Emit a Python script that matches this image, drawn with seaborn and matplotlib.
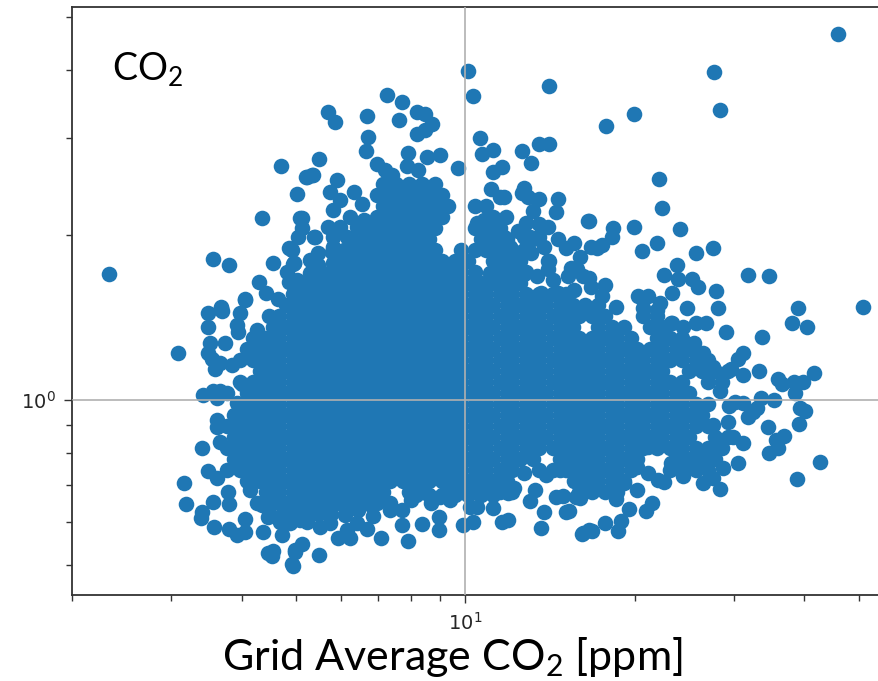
import matplotlib
matplotlib.use("Agg")
import matplotlib.pyplot as plt
import numpy as np
import pandas as pd
import seaborn as sns
from matplotlib.ticker import NullFormatter

# Points that can be read one by one around the edge of the cloud
edge_co2 = [
    45.9, 27.7, 28.3, 19.9, 17.8, 22.1, 22.4, 16.6, 18.3, 18.2, 19.9, 24.1, 21.9, 20.6, 17.5, 17.1,
    25.7, 27.6, 23.8, 22.5, 23.9, 25.3, 25.9, 31.8, 34.6, 27.9, 23.3, 20.3, 21.1, 50.9,
    39.0, 38.0, 40.4, 29.0, 33.6, 31.2, 30.5, 33.2, 41.6, 35.9, 36.6, 38.3, 39.8, 38.6, 33.5, 35.3,
    30.2, 29.4, 31.2, 33.0, 31.8, 32.5, 39.4, 40.2, 39.1, 34.5, 36.8, 35.6, 35.9, 34.6, 42.7, 38.8,
    31.2, 30.5, 28.7, 28.4, 27.5, 26.4, 24.4, 22.5, 22.0, 21.1, 20.2, 18.5, 19.5, 21.5, 20.9, 18.9,
    18.7, 17.7, 16.8, 16.2, 5.5, 5.13, 4.98, 4.94, 5.94, 6.24, 7.09, 7.92, 6.69, 7.73, 8.38, 8.99,
    8.99, 9.92, 10.3, 6.86, 11.2, 10.5, 11.6, 11.9, 13.6, 13.8, 13.0, 15.1, 15.3, 14.5, 14.9, 15.7,
    16.1, 16.6, 13.3, 12.7, 11.9, 5.52, 5.23, 5.75, 6.17, 6.42, 7.35, 7.73, 8.67, 9.4, 10.2,
    3.08, 3.49, 3.68, 3.49, 3.98, 3.93, 3.94, 3.52, 3.74, 3.49, 3.55, 3.59, 3.84, 3.67, 3.42, 3.56,
    3.67, 3.77, 3.62, 3.93, 4.01, 3.62, 3.62, 3.67, 3.40, 3.49, 3.62, 3.16, 3.19, 3.56, 3.80, 3.79,
    3.40, 3.39, 3.57, 3.80, 3.93, 4.05, 4.06, 4.37, 4.73, 4.88, 4.45, 4.55, 4.53, 4.92, 4.98, 4.26,
    4.45, 4.74,
    2.33, 4.71, 4.35, 5.02, 3.56, 3.80, 4.86, 4.55, 5.04, 5.09, 4.94, 4.30, 4.43, 4.05, 4.82, 4.86,
    5.23, 5.37, 5.13, 5.13, 5.39, 4.96, 4.65, 4.05, 3.68, 3.70, 4.47, 4.26,
    10.1, 10.3, 14.1, 7.26, 7.73, 5.71, 5.87, 6.69, 7.63, 8.21, 8.49, 8.73, 8.49, 8.21, 6.72, 6.66,
    10.6, 11.2, 10.7, 13.5, 14.1, 12.6, 13.1, 7.92, 7.88, 8.56, 9.0, 9.72, 11.6, 11.2, 8.25, 5.5,
    5.34, 5.21, 5.92, 6.95, 7.2, 7.41, 5.75, 6.35, 12.7, 12.6, 12.9, 11.1, 11.5, 13.5, 13.2, 14.6,
    14.5, 5.98, 5.82, 6.56, 5.7, 5.41, 11.8, 10.5, 16.5, 12.8, 12.4, 13.5, 14.0, 14.6, 15.1, 15.6,
    16.0, 13.5, 13.1, 12.5, 14.0, 12.7, 16.7, 4.92, 4.96, 5.46, 5.46, 5.8, 5.82,
    22.2, 21.9, 20.7, 24.8, 23.2, 18.5, 17.7, 17.5, 16.6, 15.4, 14.1, 11.7, 13.2,
    28.1, 23.3, 24.4, 25.7, 26.8, 25.5, 26.4, 27.6, 29.6, 31.2, 28.4, 27.6, 29.3, 29.9, 27.5, 26.2,
    25.1, 23.2, 22.2, 21.1, 17.0, 20.2, 19.1, 16.0,
]
edge_ratio = [
    4.65, 3.97, 3.38, 3.32, 3.16, 2.53, 2.24, 2.12, 2.06, 1.98, 2.07, 2.05, 1.93, 1.87, 1.92, 1.89,
    1.85, 1.89, 1.76, 1.69, 1.66, 1.66, 1.61, 1.69, 1.68, 1.58, 1.57, 1.55, 1.55, 1.48,
    1.47, 1.38, 1.36, 1.33, 1.30, 1.22, 1.19, 1.13, 1.12, 1.09, 1.07, 1.08, 1.08, 1.03, 1.01, 1.0,
    0.99, 0.975, 0.987, 0.967, 0.93, 0.95, 0.967, 0.955, 0.904, 0.893, 0.86, 0.845, 0.818, 0.80, 0.771, 0.717,
    0.835, 0.767, 0.751, 0.688, 0.72, 0.705, 0.726, 0.708, 0.714, 0.736, 0.685, 0.66, 0.633, 0.649, 0.627, 0.601,
    0.577, 0.596, 0.577, 0.572, 0.521, 0.546, 0.528, 0.498, 0.56, 0.56, 0.56, 0.553, 0.582, 0.591, 0.593, 0.579,
    0.612, 0.591, 0.599, 0.614, 0.635, 0.638, 0.599, 0.604, 0.584, 0.625, 0.654, 0.625, 0.627, 0.665, 0.668, 0.665,
    0.57, 0.579, 0.685, 0.736, 0.677, 0.587, 0.599, 0.596, 0.579, 0.596, 0.63, 0.63, 0.649, 0.657, 0.638,
    1.22, 1.44, 1.47, 1.36, 1.44, 1.37, 1.33, 1.27, 1.27, 1.22, 1.19, 1.14, 1.16, 1.17, 1.02, 1.04,
    1.04, 1.03, 1.01, 0.987, 1.07, 0.92, 0.893, 0.838, 0.817, 0.742, 0.72, 0.705, 0.646, 0.651, 0.646, 0.679,
    0.625, 0.609, 0.587, 0.582, 0.567, 0.574, 0.607, 0.574, 0.567, 0.596, 0.526, 0.53, 0.52, 0.502, 0.533, 0.649,
    0.612, 0.622,
    1.70, 2.67, 2.15, 2.38, 1.81, 1.76, 1.89, 1.78, 1.98, 2.15, 1.77, 1.64, 1.57, 1.53, 1.71, 1.64,
    2.55, 2.57, 2.15, 2.06, 1.98, 1.78, 1.53, 1.52, 1.48, 1.45, 1.42, 1.34,
    3.98, 3.59, 3.74, 3.60, 3.50, 3.35, 3.22, 3.30, 3.24, 3.35, 3.33, 3.19, 3.11, 3.06, 3.02, 2.85,
    3.0, 2.86, 2.81, 2.93, 2.93, 2.84, 2.70, 2.82, 2.67, 2.77, 2.80, 2.65, 2.66, 2.61, 2.63, 2.75,
    2.57, 2.55, 2.52, 2.69, 2.63, 2.57, 2.40, 2.40, 2.44, 2.39, 2.35, 2.43, 2.35, 2.33, 2.21, 2.33,
    2.2, 2.32, 2.22, 2.28, 2.07, 1.98, 2.16, 2.10, 2.12, 2.10, 2.03, 2.09, 2.07, 1.97, 1.89, 1.93,
    1.82, 1.98, 1.85, 1.81, 1.79, 1.70, 1.90, 1.88, 1.78, 1.85, 1.76, 1.86, 1.78,
    1.50, 1.46, 1.47, 1.47, 1.38, 1.48, 1.62, 1.55, 1.67, 1.74, 1.79, 2.35, 1.97,
    1.47, 1.38, 1.36, 1.38, 1.38, 1.27, 1.22, 1.15, 1.14, 1.11, 1.04, 0.90, 0.91, 0.856, 0.81, 0.77,
    0.767, 0.767, 0.835, 0.82, 0.694, 0.754, 0.706, 0.662,
]

# Clusters on the shoulders of the cloud, where it is nearly solid
shoulder_co2 = [
    5.82, 5.99, 6.17, 6.24, 6.42, 6.59, 6.24, 6.17, 5.99, 5.3, 5.3, 5.58, 5.02, 5.82,
    10.77, 11.4, 11.08, 11.7, 11.4, 12.0, 12.7, 13.05, 13.8, 12.7, 11.4, 11.08, 11.7, 12.7,
    13.4, 14.0, 14.3, 15.2, 15.8, 16.2, 15.6, 14.6, 13.6, 16.7,
    8.16, 8.61, 9.08, 9.58, 10.1, 10.65, 11.2,
    4.14, 4.35, 4.5, 4.69, 5.09, 6.12, 6.45, 6.8, 8.0, 9.03, 11.5, 12.2, 13.9, 14.7, 15.6,
]
shoulder_ratio = [
    1.98, 2.07, 1.98, 2.16, 2.07, 2.13, 1.82, 1.82, 1.78, 1.80, 1.705, 1.705, 1.655, 1.90,
    2.13, 2.13, 2.02, 1.98, 1.90, 1.90, 1.98, 1.98, 1.90, 1.876, 1.80, 1.705, 1.655, 1.705,
    1.68, 1.73, 1.655, 1.68, 1.73, 1.68, 1.59, 1.57, 1.57, 1.61,
    0.67, 0.67, 0.67, 0.67, 0.67, 0.67, 0.67,
    0.685, 0.643, 0.617, 0.599, 0.604, 0.617, 0.63, 0.643, 0.657, 0.665, 0.70, 0.69, 0.73, 0.745, 0.71,
]

# The middle of the cloud is solid, so single points cannot be told apart there.
# These rows are estimates that fill the solid area as seen in the picture.
core_ratio = [
    2.475, 2.364, 2.257, 2.155, 2.058, 1.965, 1.876, 1.79, 1.711, 1.634, 1.56, 1.49, 1.423, 1.358, 1.297, 1.239,
    1.183, 1.129, 1.078, 1.03, 0.983, 0.939, 0.896, 0.856, 0.817, 0.78, 0.745, 0.712, 0.679, 0.649, 0.62,
]
core_co2 = [
    [7.15, 7.54, 7.95, 8.38, 8.84],
    [6.96, 7.34, 7.74, 8.16, 8.61, 9.08],
    [7.15, 7.54, 7.95, 8.38, 8.84, 9.33, 10.4, 10.9],
    [6.96, 7.34, 7.74, 8.16, 8.61, 9.08, 11.2],
    [6.77, 7.15, 7.54, 7.95, 8.38, 8.84, 10.4, 10.9, 11.5],
    [6.26, 6.6, 6.96, 7.34, 7.74, 8.16, 8.61, 10.65, 11.2, 11.85],
    [6.09, 6.42, 6.77, 7.15, 7.54, 7.95, 8.38, 8.84, 9.84, 10.4, 10.9, 11.5, 12.1],
    [5.93, 6.26, 6.6, 6.96, 7.34, 7.74, 8.16, 8.61, 9.08, 9.58, 10.1, 11.2, 11.85, 12.5],
    [5.48, 5.78, 6.09, 6.42, 6.77, 7.15, 7.54, 7.95, 8.38, 8.84, 9.33, 9.84, 10.4, 11.5, 12.1, 12.8],
    [5.06, 5.34, 5.63, 5.93, 6.26, 6.6, 6.96, 7.34, 7.74, 8.16, 8.61, 9.08, 9.58, 10.1, 10.65, 11.2, 11.85, 12.5],
    [4.93, 5.19, 5.48, 5.78, 6.09, 6.42, 6.77, 7.15, 7.54, 7.95, 8.38, 8.84, 9.33, 9.84, 10.4, 10.9, 11.5, 12.1,
     12.8, 13.5, 14.3, 15.1],
    [4.8, 5.06, 5.34, 5.63, 5.93, 6.26, 6.6, 6.96, 7.34, 7.74, 8.16, 8.61, 9.08, 9.58, 10.1, 10.65, 11.2, 11.85,
     12.5, 13.2, 13.9, 14.7, 15.5, 16.3, 17.2],
    [4.67, 4.93, 5.19, 5.48, 5.78, 6.09, 6.42, 6.77, 7.15, 7.54, 7.95, 8.38, 8.84, 9.33, 9.84, 10.4, 10.9, 11.5,
     12.1, 12.8, 13.5, 14.3, 15.1, 15.9, 16.8, 17.7, 20.7, 21.9],
    [4.55, 4.8, 5.06, 5.34, 5.63, 5.93, 6.26, 6.6, 6.96, 7.34, 7.74, 8.16, 8.61, 9.08, 9.58, 10.1, 10.65, 11.2,
     11.85, 12.5, 13.2, 13.9, 14.7, 15.5, 17.2, 18.2, 19.1, 21.3, 22.4],
    [4.2, 4.43, 4.67, 4.93, 5.19, 5.48, 5.78, 6.09, 6.42, 6.77, 7.15, 7.54, 7.95, 8.38, 8.84, 9.33, 9.84, 10.4,
     10.9, 11.5, 12.1, 12.8, 13.5, 14.3, 15.1, 15.9, 16.8, 17.7, 18.6, 19.7, 21.9, 23.1, 24.3],
    [4.09, 4.31, 4.55, 4.8, 5.06, 5.34, 5.63, 5.93, 6.26, 6.6, 6.96, 7.34, 7.74, 8.16, 8.61, 9.08, 9.58, 10.1,
     10.65, 11.2, 11.85, 12.5, 13.2, 13.9, 14.7, 15.5, 16.3, 17.2, 18.2, 19.1, 20.2, 21.3, 22.4, 23.7, 25.0],
    [3.98, 4.2, 4.43, 4.67, 4.93, 5.19, 5.48, 5.78, 6.09, 6.42, 6.77, 7.15, 7.54, 7.95, 8.38, 8.84, 9.33, 9.84,
     10.4, 10.9, 11.5, 12.1, 12.8, 13.5, 14.3, 15.1, 15.9, 16.8, 17.7, 18.6, 19.7, 20.7, 21.9, 23.1, 24.3, 25.7, 27.0],
    [4.31, 4.55, 4.8, 5.06, 5.34, 5.63, 5.93, 6.26, 6.6, 6.96, 7.34, 7.74, 8.16, 8.61, 9.08, 9.58, 10.1, 10.65,
     11.2, 11.85, 12.5, 13.2, 13.9, 14.7, 15.5, 16.3, 17.2, 18.2, 19.1, 20.2, 21.3, 22.4, 25.0, 26.3, 27.8, 29.3],
    [3.98, 4.2, 4.43, 4.67, 4.93, 5.19, 5.48, 5.78, 6.09, 6.42, 6.77, 7.15, 7.54, 7.95, 8.38, 8.84, 9.33, 9.84,
     10.4, 10.9, 11.5, 12.1, 12.8, 13.5, 14.3, 15.1, 15.9, 16.8, 17.7, 18.6, 19.7, 20.7, 21.9, 23.1, 24.3, 27.0, 28.6],
    [4.09, 4.31, 4.55, 4.8, 5.06, 5.34, 5.63, 5.93, 6.26, 6.6, 6.96, 7.34, 7.74, 8.16, 8.61, 9.08, 9.58, 10.1,
     10.65, 11.2, 11.85, 12.5, 13.2, 13.9, 14.7, 15.5, 16.3, 17.2, 18.2, 19.1, 20.2, 21.3, 22.4, 23.7, 25.0],
    [3.98, 4.2, 4.43, 4.67, 4.93, 5.19, 5.48, 5.78, 6.09, 6.42, 6.77, 7.15, 7.54, 7.95, 8.38, 8.84, 9.33, 9.84,
     10.4, 10.9, 11.5, 12.1, 12.8, 13.5, 14.3, 15.1, 15.9, 16.8, 17.7, 18.6, 19.7, 20.7, 21.9, 23.1, 24.3, 25.7, 27.0],
    [3.88, 4.09, 4.31, 4.55, 4.8, 5.06, 5.34, 5.63, 5.93, 6.26, 6.6, 6.96, 7.34, 7.74, 8.16, 8.61, 9.08, 9.58, 10.1,
     10.65, 11.2, 11.85, 12.5, 13.2, 13.9, 14.7, 15.5, 16.3, 17.2, 18.2, 19.1, 20.2, 21.3, 22.4, 23.7, 25.0, 26.3],
    [3.77, 3.98, 4.2, 4.43, 4.67, 4.93, 5.19, 5.48, 5.78, 6.09, 6.42, 6.77, 7.15, 7.54, 7.95, 8.38, 8.84, 9.33, 9.84,
     10.4, 10.9, 11.5, 12.1, 12.8, 13.5, 14.3, 15.1, 15.9, 16.8, 17.7, 18.6, 19.7, 20.7, 21.9, 23.1, 24.3, 25.7, 27.0],
    [3.88, 4.09, 4.31, 4.55, 4.8, 5.06, 5.34, 5.63, 5.93, 6.26, 6.6, 6.96, 7.34, 7.74, 8.16, 8.61, 9.08, 9.58, 10.1,
     10.65, 11.2, 11.85, 12.5, 13.2, 13.9, 14.7, 15.5, 16.3, 17.2, 18.2, 19.1, 20.2, 21.3, 22.4, 23.7, 25.0, 27.8, 29.3],
    [3.77, 3.98, 4.2, 4.43, 4.67, 4.93, 5.19, 5.48, 5.78, 6.09, 6.42, 6.77, 7.15, 7.54, 7.95, 8.38, 8.84, 9.33, 9.84,
     10.4, 10.9, 11.5, 12.1, 12.8, 13.5, 14.3, 15.1, 15.9, 16.8, 17.7, 18.6, 19.7, 20.7, 21.9, 23.1, 24.3, 25.7, 27.0, 28.6],
    [3.88, 4.09, 4.31, 4.55, 4.8, 5.06, 5.34, 5.63, 5.93, 6.26, 6.6, 6.96, 7.34, 7.74, 8.16, 8.61, 9.08, 9.58, 10.1,
     10.65, 11.2, 11.85, 12.5, 13.2, 14.7, 15.5, 16.3, 17.2, 18.2, 19.1, 20.2, 23.7, 25.0, 26.3, 27.8],
    [3.77, 3.98, 4.2, 4.43, 4.67, 4.93, 5.19, 5.48, 5.78, 6.09, 6.42, 6.77, 7.15, 7.54, 7.95, 8.38, 8.84, 9.33, 9.84,
     10.4, 10.9, 11.5, 12.1, 13.5, 14.3, 15.1, 15.9, 16.8, 17.7, 18.6, 19.7, 23.1, 24.3, 25.7, 27.0],
    [4.09, 4.31, 4.55, 4.8, 5.06, 5.34, 5.63, 5.93, 6.26, 6.6, 6.96, 7.34, 7.74, 8.16, 8.61, 9.08, 9.58, 10.1,
     10.65, 11.2, 11.85, 16.3, 17.2, 18.2, 19.1],
    [4.43, 4.67, 4.93, 5.19, 5.48, 5.78, 6.09, 6.42, 6.77, 7.15, 7.95, 8.38, 9.33, 9.84, 10.4, 10.9, 11.5, 12.1,
     15.9, 16.8, 17.7, 18.6],
    [4.55, 4.8, 5.06, 5.34, 5.63, 5.93, 6.26, 6.6, 6.96, 7.34],
    [4.93, 5.19, 5.48, 5.78],
]

text_color = "#262626"
spine_color = "#333333"
point_color = "#1f77b4"
grid_color = "#b0b0b0"


def build_frame() -> pd.DataFrame:
    rows = [
        pd.DataFrame({"co2": edge_co2, "ratio": edge_ratio}),
        pd.DataFrame({"co2": shoulder_co2, "ratio": shoulder_ratio}),
    ]
    for ratio, co2_values in zip(core_ratio, core_co2):
        rows.append(pd.DataFrame({"co2": co2_values, "ratio": ratio}))
    return pd.concat(rows, ignore_index=True)


def main() -> None:
    sns.set_theme(style="ticks", rc={"mathtext.default": "regular"})
    plt.rcParams["font.family"] = ["Lato", "DejaVu Sans"]

    fig = plt.figure(figsize=(8.79, 6.81), dpi=100)
    ax = fig.add_axes([72 / 879, (681 - 595) / 681, (892 - 72) / 879, (595 - 7) / 681])

    df = build_frame()
    sns.scatterplot(data=df, x="co2", y="ratio", s=126, color=point_color, linewidth=0, ax=ax, clip_on=True)

    ax.set_xscale("log")
    ax.set_yscale("log")
    ax.set_xlim(1.999, 57.3)
    ax.set_ylim(0.4407, 5.21)

    ax.set_axisbelow(False)
    ax.grid(True, which="major", color=grid_color, linewidth=1.2)
    ax.grid(False, which="minor")
    ax.xaxis.set_minor_formatter(NullFormatter())
    ax.yaxis.set_minor_formatter(NullFormatter())

    for spine in ax.spines.values():
        spine.set_color(spine_color)
        spine.set_linewidth(1.3)
    ax.tick_params(which="major", length=6, width=1.0, color=spine_color)
    ax.tick_params(which="minor", length=4, width=1.0, color=spine_color)
    ax.tick_params(axis="both", which="major", labelsize=14, labelcolor=text_color, pad=6)
    for label in ax.get_xticklabels() + ax.get_yticklabels():
        label.set_fontfamily("DejaVu Sans")

    ax.set_xlabel("Grid Average CO$_2$ [ppm]", fontsize=31, color="black", va="baseline")
    ax.xaxis.set_label_coords((452 - 72) / (892 - 72), -(670 - 595) / (595 - 7))
    ax.set_ylabel("")
    fig.text(112 / 879, 1 - 80 / 681, "CO$_2$", fontsize=27, color="black", va="baseline")

    fig.savefig("out.png", dpi=100)
    plt.close(fig)


if __name__ == "__main__":
    main()
